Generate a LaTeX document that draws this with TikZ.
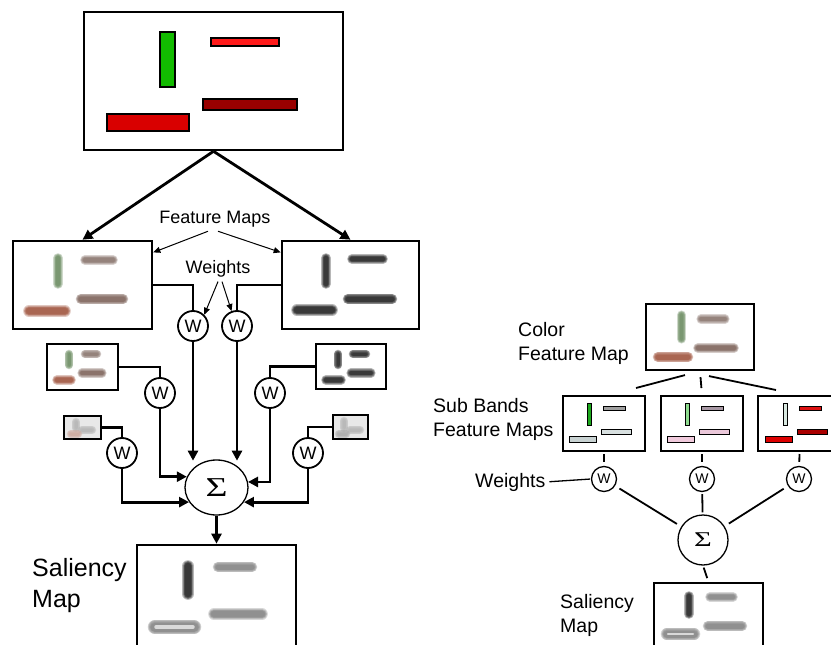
\documentclass[tikz,border=0pt]{standalone}
\usepackage{fontspec}
\setmainfont{Liberation Sans}
\newfontfamily\sigmafont{Liberation Serif}
\usepackage{xcolor}
\usepackage{tikz}
\usetikzlibrary{arrows.meta, positioning, calc, shapes.geometric}

\definecolor{topGreen}{HTML}{12BB00}
\definecolor{topRed}{HTML}{FF1A1A}
\definecolor{topDark}{HTML}{990000}
\definecolor{topMid}{HTML}{D90000}
\definecolor{fmGreen}{HTML}{5F8254}
\definecolor{fmTop}{HTML}{806A62}
\definecolor{fmMid}{HTML}{73574D}
\definecolor{fmLow}{HTML}{98472F}
\definecolor{fmDark}{HTML}{111111}
\definecolor{salGray}{HTML}{7A7A7A}

% blurred bar: start, end, colour, core width
\newcommand{\smear}[4]{%
  \foreach \k in {0,...,4}
    \draw[#3, line cap=round, line width={#4+1.4*\k}, opacity=0.3] #1 -- #2;}

\begin{document}
\begin{tikzpicture}[x=1pt, y=-1pt,
    mapbox/.style={draw, line width=2.6pt, inner sep=0pt},
    bar/.style={draw=black, line width=1.5pt},
    sbar/.style={draw=black, line width=1pt},
    wnode/.style={circle, draw, line width=1.8pt, minimum size=30pt, inner sep=0pt,
      font=\fontsize{18}{18}\selectfont},
    wsmall/.style={circle, draw, line width=1.3pt, minimum size=25pt, inner sep=0pt,
      font=\fontsize{14}{14}\selectfont},
    link/.style={line width=2.8pt},
    arr/.style={link, -{Triangle[length=10pt, width=10pt]}},
    note/.style={line width=1pt, -{Triangle[length=7pt, width=6pt]}},
    rlink/.style={line width=1.8pt},
    lbl/.style={font=\fontsize{18}{18}\selectfont, inner sep=1pt},
    rlbl/.style={font=\fontsize{19.5}{24}\selectfont, align=left, inner sep=0pt, anchor=west}]
  \useasboundingbox (0,0) rectangle (831,645);
  \clip (0,0) rectangle (831,645);

  % ---- Left: input image ----
  \node[mapbox, line width=2.6pt, minimum width=259pt, minimum height=138pt] (img) at (213.5,81) {};
  \draw[bar, fill=topGreen] (160,32) rectangle (175,87);
  \draw[bar, fill=topRed] (211,38) rectangle (279,46);
  \draw[bar, fill=topDark] (203,99) rectangle (297,110);
  \draw[bar, fill=topMid] (107,114) rectangle (189,131);

  % ---- Feature maps ----
  \node[mapbox, minimum width=139pt, minimum height=88pt] (fmL) at (82.5,285) {};
  \smear{(58,258)}{(58,284)}{fmGreen}{4}
  \smear{(85,260)}{(113,260)}{fmTop}{4}
  \smear{(81,299)}{(123,299)}{fmMid}{5}
  \smear{(29,311)}{(65,311)}{fmLow}{6}
  \node[mapbox, minimum width=137pt, minimum height=88pt] (fmR) at (350.5,285) {};
  \smear{(326,258)}{(326,284)}{fmDark}{4}
  \smear{(352,259)}{(383,259)}{fmDark}{4}
  \smear{(348,299)}{(392,299)}{fmDark}{5}
  \smear{(297,310)}{(332,310)}{fmDark}{6}

  % ---- Smaller scales ----
  \node[mapbox, minimum width=71pt, minimum height=46pt] (sL1) at (82.5,367) {};
  \smear{(69,354)}{(69,365)}{fmGreen}{3}
  \smear{(85,354)}{(97,354)}{fmTop}{3}
  \smear{(82,373)}{(102,373)}{fmMid}{3.5}
  \smear{(57,380)}{(71,380)}{fmLow}{4}
  \node[mapbox, minimum width=70pt, minimum height=45pt] (sR1) at (351,366.5) {};
  \smear{(338,354)}{(338,365)}{fmDark}{3}
  \smear{(353,354)}{(366,354)}{fmDark}{3}
  \smear{(351,373)}{(371,373)}{fmDark}{3.5}
  \smear{(326,380)}{(341,380)}{fmDark}{4}
  \node[mapbox, fill=gray!18, minimum width=37pt, minimum height=23pt] (sL2) at (82.5,427.5) {};
  \smear{(76,422)}{(76,428)}{gray!60}{3}
  \smear{(82,430)}{(92,430)}{gray!60}{3}
  \smear{(71,434)}{(78,434)}{fmLow!50}{3}
  \node[mapbox, fill=gray!18, minimum width=35pt, minimum height=24pt] (sR2) at (350.5,427) {};
  \smear{(344,421)}{(344,428)}{gray!60}{3}
  \smear{(350,430)}{(360,430)}{gray!60}{3}
  \smear{(339,434)}{(346,434)}{gray!70}{3}

  % ---- Weights and sum ----
  \node[wnode] (wA) at (193,326) {W};
  \node[wnode] (wB) at (237,326) {W};
  \node[wnode] (wC) at (160,393) {W};
  \node[wnode] (wD) at (270,393) {W};
  \node[wnode] (wE) at (122,453) {W};
  \node[wnode] (wF) at (308,453) {W};
  \node[ellipse, draw, line width=1.3pt, minimum width=63pt, minimum height=55pt, inner sep=0pt,
    font=\sigmafont\fontsize{26}{26}\selectfont] (sig) at (216.5,487.5) {\scalebox{1.45}[1.05]{Σ}};

  % ---- Saliency map (left) ----
  \node[mapbox, minimum width=159pt, minimum height=105pt] (salL) at (216.5,597.5) {};
  \smear{(188,566)}{(188,594)}{fmDark}{6}
  \smear{(218,567)}{(252,567)}{salGray}{5}
  \smear{(214,614)}{(262,614)}{salGray}{6}
  \smear{(155,627)}{(194,627)}{salGray}{9}
  \draw[gray!30, line cap=round, line width=3.5pt] (156,627) -- (193,627);

  % ---- Connectors (left) ----
  \draw[arr] (img.south) -- (fmL.north);
  \draw[arr] (img.south) -- (fmR.north);
  \draw[link] (fmL.east) -| (wA);
  \draw[link] (fmR.west) -| (wB);
  \draw[link] (sL1.east) -| (wC);
  \draw[link] (sR1.west) -| (wD);
  \draw[link] (sL2.east) -| (wE);
  \draw[link] (sR2.west) -| (wF);
  \draw[arr] (wA) -- (wA |- sig.110);
  \draw[arr] (wB) -- (wB |- sig.70);
  \draw[arr] (wC) |- (sig.160);
  \draw[arr] (wD) |- (sig.10);
  \draw[arr] (wE) |- (sig.208);
  \draw[arr] (wF) |- (sig.-28);
  \draw[arr] (sig.south) -- (salL.north);

  % ---- Labels (left) ----
  \node[lbl] (fmlbl) at (215,219) {Feature Maps};
  \draw[note] ($(fmlbl.south)+(-7,3)$) -- ($(fmL.north east)!0.14!(fmL.south east)$);
  \draw[note] ($(fmlbl.south)+(3,3)$) -- ($(fmR.north west)!0.14!(fmR.south west)$);
  \node[lbl] (wlbl) at (218,269) {Weights};
  \draw[note] ($(wlbl.south)+(0,3)$) -- (wA.45);
  \draw[note] ($(wlbl.south)+(4,3)$) -- (wB.110);
  \node[font=\fontsize{25}{31}\selectfont, align=left, inner sep=0pt, anchor=west] (sallbl) at (32,586) {Saliency\\Map};

  % ---- Right: colour feature map and sub bands ----
  \node[mapbox, line width=2.2pt, minimum width=108pt, minimum height=66pt] (cfm) at (700,337) {};
  \smear{(681.5,315)}{(681.5,339)}{fmGreen}{3.5}
  \smear{(701,319)}{(725,319)}{fmTop}{3.5}
  \smear{(698,348)}{(734,348)}{fmMid}{4}
  \smear{(658,357)}{(688,357)}{fmLow}{5}
  \node[rlbl] (cfmlbl) at (518,343) {Color\\Feature Map};

  \node[mapbox, line width=2pt, minimum width=82pt, minimum height=55pt] (sb1) at (604,423.5) {};
  \node[mapbox, line width=2pt, minimum width=82pt, minimum height=55pt] (sb2) at (702,423.5) {};
  \node[mapbox, line width=2pt, minimum width=83pt, minimum height=55pt] (sb3) at (799.5,423.5) {};
  \foreach \dx/\cv/\ct/\cm/\cb in {0/1DA81D/A0A0A0/D8E0E0/C8D2D2,
                                   98/8EDB8E/A898A4/EBC8DA/F0CADC,
                                   196/D8E8E0/DD1111/AA0000/DD0000} {
    \definecolor{bv}{HTML}{\cv}\definecolor{bt}{HTML}{\ct}%
    \definecolor{bm}{HTML}{\cm}\definecolor{bb}{HTML}{\cb}%
    \draw[sbar, fill=bv] (587+\dx,403) rectangle (591+\dx,425);
    \draw[sbar, fill=bt] (603+\dx,406) rectangle (625+\dx,410);
    \draw[sbar, fill=bm] (601+\dx,429) rectangle (631+\dx,434);
    \draw[sbar, fill=bb] (569+\dx,436) rectangle (596+\dx,442);
  }
  \node[rlbl] (sblbl) at (433,419.5) {Sub Bands\\Feature Maps};

  \node[wsmall] (w1) at (604,479) {W};
  \node[wsmall] (w2) at (702,479) {W};
  \node[wsmall] (w3) at (799,479) {W};
  \node[rlbl] (wlblR) at (475,482) {Weights};
  \node[circle, draw, line width=1.3pt, minimum size=50pt, inner sep=0pt,
    font=\sigmafont\fontsize{21}{21}\selectfont] (sigR) at (703,540) {\scalebox{1.45}[1]{Σ}};

  \node[mapbox, line width=2.2pt, minimum width=109pt, minimum height=70pt] (salR) at (708.5,618) {};
  \smear{(689,596)}{(689,614)}{fmDark}{4}
  \smear{(710,597)}{(733,597)}{salGray}{4}
  \smear{(708,626)}{(742,626)}{salGray}{5}
  \smear{(667,634)}{(694,634)}{salGray}{7}
  \draw[gray!30, line cap=round, line width=2.5pt] (668,634) -- (693,634);
  \node[rlbl] (salRlbl) at (560,615) {Saliency\\Map};

  % ---- Connectors (right) ----
  \draw[rlink] ($(cfm.south)+(-15,4)$) -- ($(sb1.north)+(32,-7)$);
  \draw[rlink, shorten <=6pt, shorten >=7pt] (cfm.south) -- (sb2.north);
  \draw[rlink] ($(cfm.south)+(9,5)$) -- ($(sb3.north)+(-23.5,-5)$);
  \foreach \i in {1,2,3}
    \draw[rlink, shorten <=2pt, shorten >=4pt] (sb\i.south) -- (w\i);
  \draw[rlink, shorten <=5pt, shorten >=5pt] (w1) -- (sigR);
  \draw[rlink, shorten <=2pt, shorten >=2pt] (w2) -- (sigR);
  \draw[rlink, shorten <=5pt, shorten >=5pt] (w3) -- (sigR);
  \draw[rlink, line width=1.3pt, shorten <=4pt, shorten >=1pt] (wlblR.east) -- (w1.west);
  \draw[rlink, shorten <=2pt, shorten >=4pt] (sigR.south) -- (salR.north);
\end{tikzpicture}
\end{document}
